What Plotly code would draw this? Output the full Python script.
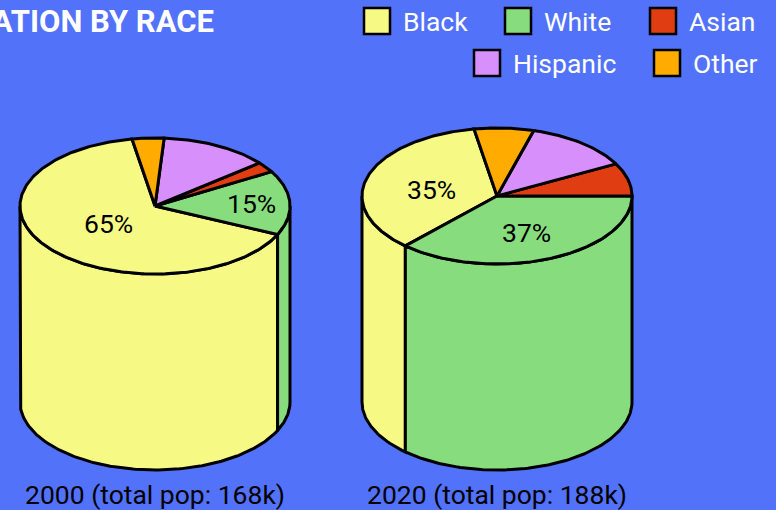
"""Population by race, two cylinder pies drawn with filled scatter traces."""

import numpy as np
import plotly.graph_objects as go

BG = "#5272fa"
INK = "#000000"
FONT = "Roboto"

races = ["Black", "White", "Asian", "Hispanic", "Other"]
race_colors = ["#f6fa85", "#87dd7e", "#e03e12", "#d68ffb", "#ffab00"]

# share of population, percent
shares_2000 = [65.4, 15.3, 2.5, 13.0, 3.8]
shares_2020 = [35.4, 36.9, 7.8, 12.8, 7.1]
caption_2000 = "2000 (total pop: 168k)"
caption_2020 = "2020 (total pop: 188k)"

# pixel layout of the two cylinders: centre x, top y, depth
CYL_2000 = dict(cx=155, cy=206, depth=196)
CYL_2020 = dict(cx=497, cy=196, depth=206)
RX, RY = 135, 68
START = -9.8  # degrees clockwise from 12 o'clock, slices run anticlockwise

LEGEND_POS = [(377, 21), (518, 21), (663, 21), (487, 63), (667, 63)]


def rim(cx, cy, a0, a1):
    t = np.radians(np.linspace(a0, a1, max(2, int(abs(a1 - a0)) + 2)))
    return cx + RX * np.sin(t), cy - RY * np.cos(t)


def add_poly(fig, xs, ys, color):
    fig.add_trace(
        go.Scatter(
            x=list(xs),
            y=list(ys),
            mode="lines",
            fill="toself",
            fillcolor=color,
            line=dict(color=INK, width=3),
            hoverinfo="skip",
            showlegend=False,
        )
    )


def add_cylinder(fig, shares, cx, cy, depth):
    edges = START - np.cumsum([0] + list(shares)) * 3.6
    # sides first: only the front half of the rim (90..270 deg) can be seen
    for i, color in enumerate(race_colors):
        hi, lo = edges[i] % 360, (edges[i] % 360) - shares[i] * 3.6
        a0, a1 = max(lo, 90), min(hi, 270)
        if a1 <= a0:
            continue
        x, y = rim(cx, cy, a0, a1)
        add_poly(
            fig,
            np.r_[x, x[::-1], x[0]],
            np.r_[y, y[::-1] + depth, y[0]],
            color,
        )
    for i, color in enumerate(race_colors):
        x, y = rim(cx, cy, edges[i], edges[i + 1])
        add_poly(fig, np.r_[cx, x, cx], np.r_[cy, y, cy], color)


fig = go.Figure()
add_cylinder(fig, shares_2000, **CYL_2000)
add_cylinder(fig, shares_2020, **CYL_2020)

# legend swatches
fig.add_trace(
    go.Scatter(
        x=[p[0] for p in LEGEND_POS],
        y=[p[1] for p in LEGEND_POS],
        mode="markers",
        marker=dict(symbol="square", size=26, color=race_colors, line=dict(color=INK, width=2.5)),
        hoverinfo="skip",
        showlegend=False,
    )
)
for name, (px, py) in zip(races, LEGEND_POS):
    fig.add_annotation(
        x=px + 24, y=py + 0.5, text=name, showarrow=False, xanchor="left", yanchor="middle",
        font=dict(family=FONT, size=26.5, color="#ffffff"),
    )

# slice labels
for text, px, py in [
    (f"{shares_2000[0]:.0f}%", 108, 223),
    (f"{shares_2000[1]:.0f}%", 251, 203),
    (f"{shares_2020[0]:.0f}%", 431, 189),
    (f"{shares_2020[1]:.0f}%", 526, 232),
]:
    fig.add_annotation(
        x=px, y=py, text=text, showarrow=False,
        font=dict(family=FONT, size=26.5, color=INK),
    )

for text, px in [(caption_2000, 155), (caption_2020, 497)]:
    fig.add_annotation(
        x=px, y=494, text=text, showarrow=False,
        font=dict(family=FONT, size=26.5, color=INK),
    )

fig.add_annotation(
    x=216, y=21, text="<b>POPULATION BY RACE</b>", showarrow=False, xanchor="right",
    font=dict(family=FONT, size=31, color="#ffffff"),
)

fig.update_xaxes(range=[0, 776], visible=False, fixedrange=True)
fig.update_yaxes(range=[510, 0], visible=False, fixedrange=True)
fig.update_layout(
    width=776,
    height=510,
    margin=dict(l=0, r=0, t=0, b=0),
    paper_bgcolor=BG,
    plot_bgcolor=BG,
    showlegend=False,
)
fig.write_html(
    "out.html",
    config={"displayModeBar": False},
    post_script="document.body.style.margin='0';",
)
